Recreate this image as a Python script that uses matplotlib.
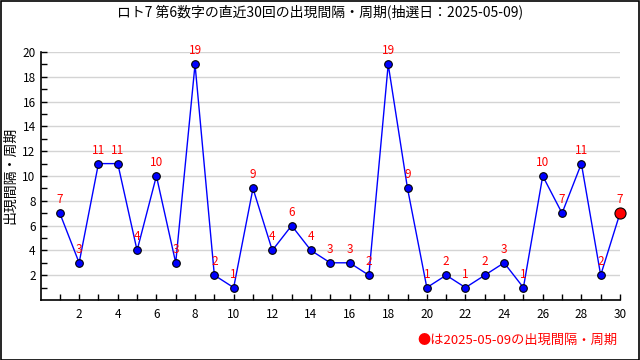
import matplotlib
matplotlib.use("Agg")
import matplotlib.pyplot as plt
from matplotlib.patches import Rectangle

plt.rcParams['font.family'] = ['Noto Sans CJK JP', 'DejaVu Sans']

x = list(range(1, 31))
values = [7, 3, 11, 11, 4, 10, 3, 19, 2, 1, 9, 4, 6, 4, 3, 3, 2, 19, 9, 1,
          2, 1, 2, 3, 1, 10, 7, 11, 2, 7]
title = "ロト7 第6数字の直近30回の出現間隔・周期(抽選日：2025-05-09)"
ylabel = "出現間隔・周期"
note = "●は2025-05-09の出現間隔・周期"

fig = plt.figure(figsize=(6.4, 3.6), dpi=100)
ax = fig.add_axes([40.5/640, 60/360, (620-40.5)/640, (300-52)/360])

ax.set_xlim(0, 30)
ax.set_ylim(0, 20)
ax.set_yticks(range(2, 21, 2))
ax.set_yticks(range(1, 21), minor=True)
ax.set_xticks(range(2, 31, 2))
ax.set_xticks(range(1, 31), minor=True)
ax.grid(axis='y', which='major', color='#d4d4d4', linewidth=1)
ax.set_axisbelow(True)
for s in ['top', 'right']:
    ax.spines[s].set_visible(False)
for s in ['left', 'bottom']:
    ax.spines[s].set_linewidth(1.2)
ax.tick_params(which='both', direction='in', labelsize=8.5, width=1)
ax.tick_params(which='major', length=4)
ax.tick_params(which='minor', length=4)
ax.tick_params(axis='x', pad=6)

ax.plot(x, values, color='blue', linewidth=1, zorder=3)
ax.plot(x[:-1], values[:-1], 'o', color='blue', markeredgecolor='black',
        markeredgewidth=0.8, markersize=5.5, zorder=4, clip_on=False)
ax.plot(x[-1:], values[-1:], 'o', color='red', markeredgecolor='black',
        markeredgewidth=0.8, markersize=8, zorder=5, clip_on=False)
for xi, v in zip(x, values):
    ax.annotate(str(v), (xi, v), xytext=(0, 5), textcoords='offset points',
                ha='center', va='bottom', color='red', fontsize=8.5, zorder=6)

fig.text(0.5, 1 - 12/360, title, ha='center', va='center', fontsize=10)
fig.text(10/640, 1 - 175/360, ylabel, ha='center', va='center', rotation=90, fontsize=10)
fig.text(618/640, 1 - 340/360, note, ha='right', va='center', color='red', fontsize=9.5)

fig.patches.append(Rectangle((0.5/640, 0.5/360), 638/640, 358.5/360, transform=fig.transFigure,
                             fill=False, edgecolor='black', linewidth=1.2))

fig.savefig('out.png', dpi=100)
